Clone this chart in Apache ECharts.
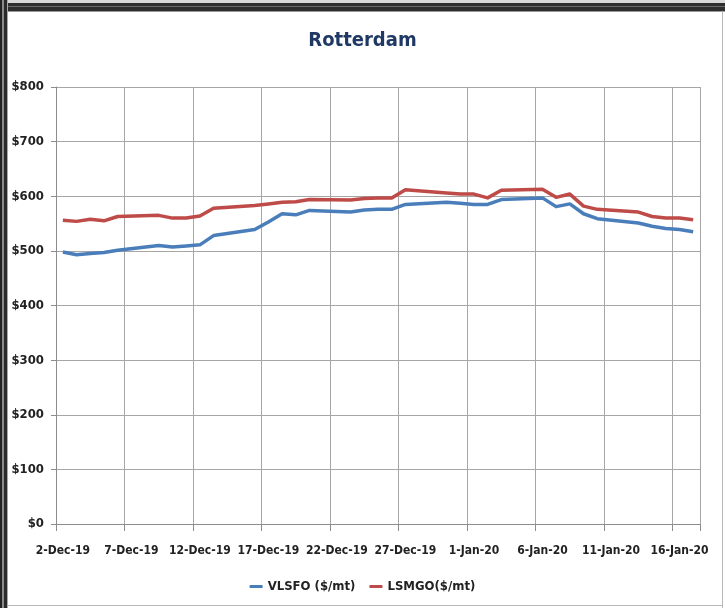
<!DOCTYPE html>
<html>
<head>
<meta charset="utf-8">
<script src="https://cdn.jsdelivr.net/npm/echarts@6/dist/echarts.min.js"></script>
<style>
  html, body { margin: 0; padding: 0; background: #ffffff; }
  #wrap { position: relative; width: 725px; height: 608px; overflow: hidden; background: #ffffff; }
  #chart { position: absolute; left: 0; top: 0; width: 725px; height: 608px; }
  .edge { position: absolute; pointer-events: none; }
</style>
</head>
<body>
<div id="wrap">
  <div id="chart"></div>
  <!-- window frame around the chart sheet -->
  <div class="edge" style="left:0;top:0;width:725px;height:3px;background:#d8d8d8;"></div>
  <div class="edge" style="left:0;top:3px;width:725px;height:8px;background:#2e2e2e;"></div>
  <div class="edge" style="left:0;top:6px;width:725px;height:1px;background:#6a6a6a;"></div>
  <div class="edge" style="left:0;top:11px;width:725px;height:1px;background:#9a9a9a;"></div>
  <div class="edge" style="left:0;top:0;width:2px;height:608px;background:#222;"></div>
  <div class="edge" style="left:2px;top:0;width:2px;height:608px;background:#8a8a8a;"></div>
  <div class="edge" style="left:4px;top:0;width:3px;height:608px;background:#2a2a2a;"></div>
  <div class="edge" style="left:7px;top:0;width:1px;height:608px;background:#a8a8a8;"></div>
  <div class="edge" style="left:722px;top:11px;width:1px;height:597px;background:#b8b8b8;"></div>
  <div class="edge" style="left:7px;top:605px;width:716px;height:1px;background:#b8b8b8;"></div>
</div>
<script>
// Daily slots from 2-Dec-19 to 17-Jan-20; weekends carry no price
const dates = [
  '2-Dec-19','3-Dec-19','4-Dec-19','5-Dec-19','6-Dec-19','7-Dec-19','8-Dec-19',
  '9-Dec-19','10-Dec-19','11-Dec-19','12-Dec-19','13-Dec-19','14-Dec-19','15-Dec-19',
  '16-Dec-19','17-Dec-19','18-Dec-19','19-Dec-19','20-Dec-19','21-Dec-19','22-Dec-19',
  '23-Dec-19','24-Dec-19','25-Dec-19','26-Dec-19','27-Dec-19','28-Dec-19','29-Dec-19',
  '30-Dec-19','31-Dec-19','1-Jan-20','2-Jan-20','3-Jan-20','4-Jan-20','5-Jan-20',
  '6-Jan-20','7-Jan-20','8-Jan-20','9-Jan-20','10-Jan-20','11-Jan-20','12-Jan-20',
  '13-Jan-20','14-Jan-20','15-Jan-20','16-Jan-20','17-Jan-20'
];

const vlsfo = [
  498, 493, 495, 497, 501, null, null,
  510, 507, 509, 511, 528, null, null,
  539, 553, 568, 566, 574, null, null,
  571, 575, 576, 576, 585, null, null,
  589, 587, 585, 585, 594, null, null,
  597, 581, 586, 568, 559, null, null,
  551, 545, 541, 539, 535
];

const lsmgo = [
  556, 554, 558, 555, 563, null, null,
  565, 560, 560, 564, 578, null, null,
  583, 586, 589, 590, 594, null, null,
  593, 596, 597, 597, 612, null, null,
  606, 604, 604, 597, 611, null, null,
  613, 598, 604, 582, 576, null, null,
  571, 563, 560, 560, 557
];

const seriesNames = ['VLSFO ($/mt)', 'LSMGO($/mt)'];
const colors = ['#4a7ebb', '#be4b48'];

const FONT = '"DejaVu Sans Condensed", "Liberation Sans Narrow", "Liberation Sans", sans-serif';

// grid and ticks every fifth day
const everyFifth = (idx) => idx % 5 === 0;

const chart = echarts.init(document.getElementById('chart'), null, { renderer: 'canvas' });

chart.setOption({
  backgroundColor: 'transparent',
  animation: false,
  title: {
    text: 'Rotterdam',
    left: 'center',
    top: 26,
    textStyle: { fontFamily: FONT, fontWeight: 'bold', fontSize: 20, color: '#1f3864' }
  },
  legend: {
    bottom: 10,
    left: 'center',
    itemWidth: 13,
    itemHeight: 3,
    itemGap: 14,
    icon: 'rect',
    textStyle: { fontFamily: FONT, fontWeight: 'bold', fontSize: 13, color: '#222' },
    data: seriesNames
  },
  grid: { left: 56, right: 25, top: 87, bottom: 84, containLabel: false },
  xAxis: {
    type: 'category',
    data: dates,
    boundaryGap: true,
    axisLine: { show: true, lineStyle: { color: '#8c8c8c', width: 1 } },
    axisTick: { show: true, interval: everyFifth, length: 7, lineStyle: { color: '#8c8c8c' } },
    splitLine: { show: true, interval: everyFifth, lineStyle: { color: '#a6a6a6', width: 1 } },
    axisLabel: {
      interval: 4,
      margin: 21,
      fontFamily: FONT,
      fontWeight: 'bold',
      fontSize: 12,
      color: '#222'
    }
  },
  yAxis: {
    type: 'value',
    min: 0,
    max: 800,
    interval: 100,
    axisLine: { show: true, lineStyle: { color: '#8c8c8c', width: 1 } },
    axisTick: { show: true, length: 5, lineStyle: { color: '#8c8c8c' } },
    splitLine: { show: true, lineStyle: { color: '#a6a6a6', width: 1 } },
    axisLabel: {
      margin: 12,
      fontFamily: FONT,
      fontWeight: 'bold',
      fontSize: 13,
      color: '#222',
      formatter: v => '$' + v
    }
  },
  series: [
    {
      name: seriesNames[0],
      type: 'line',
      data: vlsfo,
      connectNulls: true,
      showSymbol: false,
      symbol: 'none',
      lineStyle: { color: colors[0], width: 3.5, join: 'round' },
      itemStyle: { color: colors[0] }
    },
    {
      name: seriesNames[1],
      type: 'line',
      data: lsmgo,
      connectNulls: true,
      showSymbol: false,
      symbol: 'none',
      lineStyle: { color: colors[1], width: 3.5, join: 'round' },
      itemStyle: { color: colors[1] }
    }
  ]
});
</script>
</body>
</html>
